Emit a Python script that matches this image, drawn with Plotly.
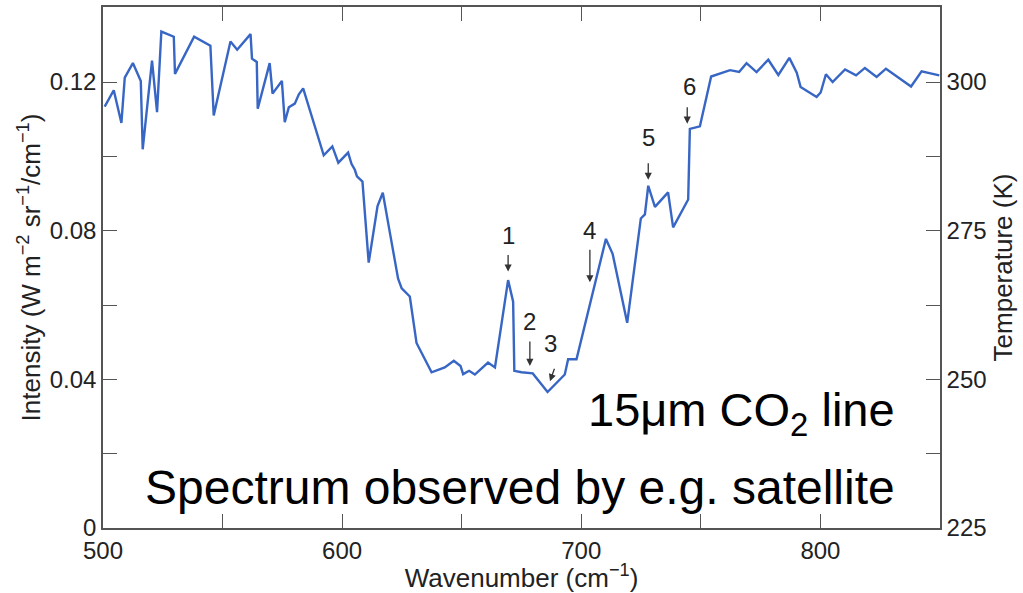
import plotly.graph_objects as go

# Wavenumber (cm^-1)
wavenumber = [500.7, 504.5, 507.7, 509.1, 512.5, 515.8, 516.6, 520.5, 522.6, 524.4,
              529.6, 530.1, 538.1, 544.9, 546.3, 553.3, 556.1, 561.7, 562.3, 564.3,
              564.7, 569.7, 570.9, 574.8, 576.0, 577.7, 580.2, 581.9, 583.7, 592.3,
              595.9, 598.4, 602.5, 603.9, 605.3, 606.2, 608.5, 611.1, 614.8, 617.0,
              620.2, 623.4, 624.9, 628.3, 631.1, 637.4, 642.9, 646.7, 649.5, 650.6,
              653.1, 655.5, 661.0, 663.9, 669.4, 671.5, 672.0, 675.0, 679.7, 685.9,
              693.1, 694.5, 698.0, 710.3, 713.1, 719.2, 724.9, 726.6, 728.0, 730.8,
              736.3, 738.4, 744.7, 745.4, 749.6, 754.3, 762.2, 766.0, 769.1, 773.3,
              778.2, 782.4, 787.0, 790.1, 791.7, 798.4, 800.1, 802.3, 805.1, 810.3,
              814.9, 818.6, 823.5, 827.4, 837.9, 842.3, 849.7]

# Intensity (W m^-2 sr^-1 / cm^-1)
intensity = [0.1134, 0.1178, 0.1090, 0.1212, 0.1251, 0.1203, 0.1019, 0.1258, 0.1119, 0.1336,
             0.1322, 0.1222, 0.1322, 0.1298, 0.1110, 0.1309, 0.1287, 0.1329, 0.1263, 0.1254,
             0.1128, 0.1251, 0.1169, 0.1203, 0.1092, 0.1132, 0.1142, 0.1167, 0.1183, 0.1003,
             0.1027, 0.0983, 0.1010, 0.0980, 0.0964, 0.0946, 0.0932, 0.0714, 0.0866, 0.0902,
             0.0786, 0.0671, 0.0645, 0.0623, 0.0498, 0.0419, 0.0432, 0.0450, 0.0436, 0.0414,
             0.0423, 0.0413, 0.0445, 0.0432, 0.0667, 0.0609, 0.0423, 0.0419, 0.0416, 0.0366,
             0.0413, 0.0454, 0.0454, 0.0778, 0.0738, 0.0552, 0.0833, 0.0844, 0.0921, 0.0864,
             0.0903, 0.0809, 0.0884, 0.1074, 0.1081, 0.1215, 0.1232, 0.1227, 0.1251, 0.1227,
             0.1260, 0.1219, 0.1265, 0.1225, 0.1187, 0.1160, 0.1172, 0.1221, 0.1200, 0.1234,
             0.1218, 0.1238, 0.1214, 0.1236, 0.1188, 0.1229, 0.1218]

# Marked features: labels, arrow tips and label positions (data units)
mark_labels = ["1", "2", "3", "4", "5", "6"]
mark_tip_x = [669.4, 678.5, 686.9, 703.6, 728.0, 744.3]
mark_tip_y = [0.0690, 0.0436, 0.0395, 0.0661, 0.0937, 0.1088]
mark_lab_x = [669.4, 678.5, 687.2, 703.6, 728.0, 745.1]
mark_lab_y = [0.0786, 0.0557, 0.0496, 0.0800, 0.1052, 0.1187]
arrow_ax = [0, 0, 5, 0, 0, 0]
arrow_ay = [-18, -26, -14, -34, -18, -18]

# Axis ticks
x_tickvals = [500, 550, 600, 650, 700, 750, 800, 850]
x_ticktext = ["500", "", "600", "", "700", "", "800", ""]
y_tickvals = [0, 0.02, 0.04, 0.06, 0.08, 0.10, 0.12]
y_ticktext = ["0", "", "0.04", "", "0.08", "", "0.12"]
t_ticktext = ["225", "", "250", "", "275", "", "300"]

FONT = "Liberation Sans, Arial, sans-serif"
AXIS_COLOR = "#555555"
TEXT_COLOR = "#222222"
TICK_SIZE = 24
TITLE_SIZE = 26

fig = go.Figure()
fig.add_trace(go.Scatter(
    x=wavenumber, y=intensity, mode="lines",
    line=dict(color="#3866c4", width=2.4),
    showlegend=False, hoverinfo="skip",
))
# invisible trace to activate right axis
fig.add_trace(go.Scatter(
    x=[wavenumber[0]], y=[intensity[0]], yaxis="y2", mode="markers",
    marker=dict(opacity=0), showlegend=False, hoverinfo="skip",
))

annotations = []
for lab, lx, ly in zip(mark_labels, mark_lab_x, mark_lab_y):
    annotations.append(dict(
        x=lx, y=ly, xref="x", yref="y", text=lab, showarrow=False,
        font=dict(family=FONT, size=24, color=TEXT_COLOR),
    ))
for tx, ty, ax, ay in zip(mark_tip_x, mark_tip_y, arrow_ax, arrow_ay):
    annotations.append(dict(
        x=tx, y=ty, xref="x", yref="y", text="", showarrow=True,
        ax=ax, ay=ay, axref="pixel", ayref="pixel",
        arrowhead=2, arrowsize=1.1, arrowwidth=1.3, arrowcolor="#333333",
    ))
annotations.append(dict(
    x=0.949, y=0.22, xref="paper", yref="paper", xanchor="right", yanchor="middle",
    text="15μm CO<sub>2</sub> line", showarrow=False,
    font=dict(family=FONT, size=47, color="#000000"),
))
annotations.append(dict(
    x=0.949, y=0.078, xref="paper", yref="paper", xanchor="right", yanchor="middle",
    text="Spectrum observed by e.g. satellite", showarrow=False,
    font=dict(family=FONT, size=48, color="#000000"),
))

fig.update_layout(
    width=1023, height=593,
    margin=dict(l=103, r=83, t=5, b=65),
    paper_bgcolor="white", plot_bgcolor="white",
    font=dict(family=FONT, size=TICK_SIZE, color=TEXT_COLOR),
    xaxis=dict(
        range=[500, 850], tickvals=x_tickvals, ticktext=x_ticktext,
        ticks="inside", ticklen=14, tickwidth=1.3, tickcolor=AXIS_COLOR,
        showline=True, linecolor=AXIS_COLOR, linewidth=1.5, mirror="ticks",
        showgrid=False, zeroline=False,
        tickfont=dict(family=FONT, size=TICK_SIZE, color=TEXT_COLOR),
        title=dict(text="Wavenumber (cm<sup>−1</sup>)", standoff=0,
                   font=dict(family=FONT, size=TITLE_SIZE, color=TEXT_COLOR)),
    ),
    yaxis=dict(
        range=[0, 0.1402], tickvals=y_tickvals, ticktext=y_ticktext,
        ticks="inside", ticklen=14, tickwidth=1.3, tickcolor=AXIS_COLOR,
        showline=True, linecolor=AXIS_COLOR, linewidth=1.5,
        showgrid=False, zeroline=False,
        tickfont=dict(family=FONT, size=TICK_SIZE, color=TEXT_COLOR),
        title=dict(text="Intensity (W m<sup>−2</sup> sr<sup>−1</sup>/cm<sup>−1</sup>)", standoff=2,
                   font=dict(family=FONT, size=TITLE_SIZE, color=TEXT_COLOR)),
    ),
    yaxis2=dict(
        overlaying="y", side="right", anchor="x",
        range=[0, 0.1402], tickvals=y_tickvals, ticktext=t_ticktext,
        ticks="inside", ticklen=14, tickwidth=1.3, tickcolor=AXIS_COLOR,
        showline=True, linecolor=AXIS_COLOR, linewidth=1.5,
        showgrid=False, zeroline=False,
        tickfont=dict(family=FONT, size=TICK_SIZE, color=TEXT_COLOR),
        title=dict(text="Temperature (K)", standoff=8,
                   font=dict(family=FONT, size=TITLE_SIZE, color=TEXT_COLOR)),
    ),
    annotations=annotations,
)

fig.write_html("out.html", config={"displayModeBar": False},
               post_script="document.body.style.margin='0';")
